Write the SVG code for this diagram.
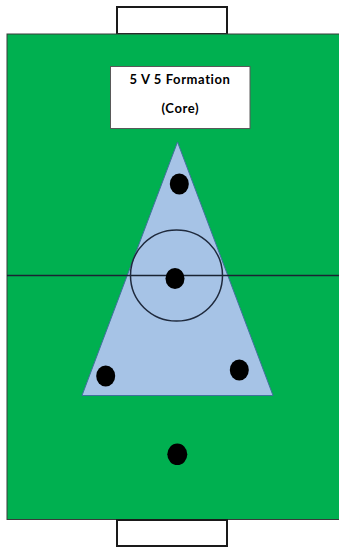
<svg xmlns="http://www.w3.org/2000/svg" width="339" height="548" viewBox="0 0 339 548">
<style>
.goal{fill:#ffffff;stroke:#1a1a1a;stroke-width:2}
.dot{fill:#000000}
.ttl{font-family:Lato,"Open Sans","Liberation Sans",sans-serif;font-weight:bold;font-size:13px;letter-spacing:0.6px;fill:#000000;text-anchor:middle}
</style>
<rect width="339" height="548" fill="#ffffff"/>
<g id="goal-top"><rect class="goal" x="117" y="7" width="110" height="27"/></g>
<g id="field"><rect x="7" y="34" width="333" height="485.5" fill="#00b050" stroke="#3a3a3a" stroke-width="1"/></g>
<g id="goal-bottom"><rect class="goal" x="117" y="520" width="110" height="26"/></g>
<g id="title">
<rect x="110.5" y="66.5" width="139.5" height="62" fill="#ffffff" stroke="#595959" stroke-width="1"/>
<text class="ttl" x="180" y="84">5 V 5 Formation</text>
<text class="ttl" x="180.3" y="113">(Core)</text>
</g>
<g id="triangle"><polygon points="177.5,142 82,395.5 273,395.5" fill="#a6c3e6" stroke="#41719c" stroke-width="1"/></g>
<g id="midline"><line x1="7" y1="275.5" x2="339" y2="275.5" stroke="#1a2433" stroke-width="1.3"/></g>
<g id="center-circle"><ellipse cx="176.5" cy="275.5" rx="46" ry="45.5" fill="none" stroke="#1f2a3d" stroke-width="1.5"/></g>
<g id="players">
<ellipse class="dot" cx="179.3" cy="184" rx="9.5" ry="10.5"/>
<ellipse class="dot" cx="175" cy="278.5" rx="9.5" ry="10.5"/>
<ellipse class="dot" cx="105.7" cy="376" rx="9.5" ry="10.5"/>
<ellipse class="dot" cx="239.3" cy="370" rx="9.5" ry="10.5"/>
<ellipse class="dot" cx="177.3" cy="454.3" rx="10" ry="10.8"/>
</g>
</svg>
